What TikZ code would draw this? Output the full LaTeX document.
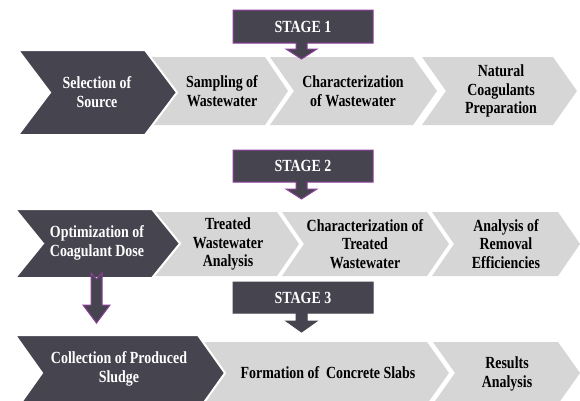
\documentclass[tikz,border=0pt]{standalone}
\usepackage{fontspec}
\setmainfont{Liberation Serif}[FakeStretch=0.82]
\definecolor{slate}{HTML}{45444F}
\definecolor{pale}{HTML}{D6D6D6}
\definecolor{plum}{HTML}{8E3F9C}

% chevron: #1 style, #2 left x, #3 corner x, #4 top y, #5 bottom y, #6 point depth
\newcommand{\chev}[6]{%
  \fill[#1] (#2,#4) -- (#3,#4) -- ({#3+#6},{(#4+#5)/2}) -- (#3,#5) -- (#2,#5)
    -- ({#2+#6},{(#4+#5)/2}) -- cycle;}

% stage callout with a down arrow: #1 style, #2 top, #3 bottom, #4 arrow head top, #5 tip
\newcommand{\stagecallout}[5]{%
  \draw[#1] (233,#2) -- (373,#2) -- (373,#3) -- (307,#3) -- (307,#4) -- (317,#4)
    -- (301.5,#5) -- (286,#4) -- (296,#4) -- (296,#3) -- (233,#3) -- cycle;}

\tikzset{
  lightchev/.style={fill=pale},
  darkchev/.style={fill=slate, draw=white, line width=2pt, line join=miter},
  callout/.style={fill=slate, draw=plum, line width=1pt},
  plaincallout/.style={fill=slate, draw=slate, line width=1pt},
  txt/.style={font=\bfseries\fontsize{17}{18.5}\selectfont, align=center, inner sep=0pt},
  ontxt/.style={txt, text=white},
  offtxt/.style={txt, text=black},
}

\begin{document}
\begin{tikzpicture}[x=1pt, y=-1pt]
\useasboundingbox (0,0) rectangle (580,400);
\clip (0,0) rectangle (580,400);
\fill[white] (0,0) rectangle (580,400);

% ---------- stage 1 ----------
\chev{lightchev}{422}{553}{57}{125}{24}
\chev{lightchev}{270}{413}{57}{125}{24}
\chev{lightchev}{150}{265}{57}{125}{23}
\chev{darkchev}{18}{145}{50}{135}{32}
\stagecallout{callout}{10}{43}{49}{59}

\node[ontxt]  (sel)   at (97,92)   {Selection of\\Source};
\node[offtxt] (samp)  at (222,91)  {Sampling of\\Wastewater};
\node[offtxt] (char1) at (353,91)  {Characterization\\of Wastewater};
\node[offtxt] (nat)   at (501,91)  {Natural\\Coagulants\\Preparation};
\node[ontxt]  (st1)   at (303,26.5) {STAGE 1};

% ---------- stage 2 ----------
\chev{lightchev}{432}{558}{212}{276}{22}
\chev{lightchev}{282}{427}{212}{276}{22}
\chev{lightchev}{150}{277}{212}{276}{22}
\chev{darkchev}{15}{152}{209}{278}{28}
\stagecallout{callout}{150}{182}{189}{199}

\node[ontxt]  (opt)   at (97,243)  {Optimization of\\Coagulant Dose};
\node[offtxt] (treat) at (228,244) {Treated\\Wastewater\\Analysis};
\node[offtxt] (char2) at (365,244) {Characterization of\\Treated\\Wastewater};
\node[offtxt] (anal)  at (506,244) {Analysis of\\Removal\\Efficiencies};
\node[ontxt]  (st2)   at (303,166) {STAGE 2};

% ---------- stage 3 ----------
\chev{lightchev}{433}{558}{342}{404}{22}
\chev{lightchev}{200}{427}{342}{404}{22}
\chev{darkchev}{15}{198}{335}{411}{27}
\stagecallout{plaincallout}{282}{313}{321}{332}

\node[ontxt]  (coll) at (119,369) {Collection of Produced\\Sludge};
\node[offtxt] (form) at (328,373) {Formation of\ \ Concrete Slabs};
\node[offtxt] (res)  at (507,374) {Results\\Analysis};
\node[ontxt]  (st3)  at (303,297.5) {STAGE 3};

% notched block arrow from the dose step down to the sludge step
\draw[fill=slate, draw=plum, line width=1pt]
  (91,273) -- (96.5,279) -- (102,273) -- (102,305) -- (110,305) -- (96.5,323)
  -- (83,305) -- (91,305) -- cycle;
\end{tikzpicture}
\end{document}
